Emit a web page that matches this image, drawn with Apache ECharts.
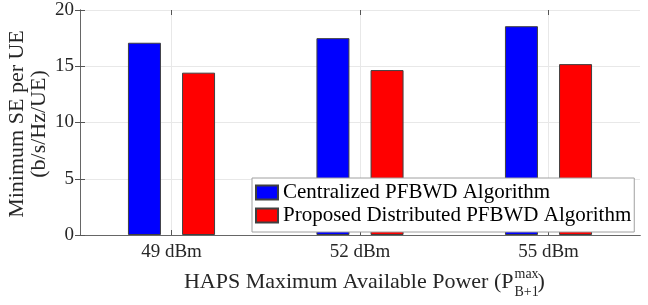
<!DOCTYPE html>
<html>
<head>
<meta charset="utf-8">
<script src="https://cdn.jsdelivr.net/npm/echarts@6/dist/echarts.min.js"></script>
<style>html,body{margin:0;padding:0;background:#fff;}#c{width:648px;height:305px;}</style>
</head>
<body>
<div id="c"></div>
<script>
const categories = ['49 dBm', '52 dBm', '55 dBm'];
const centralized = [17.09, 17.5, 18.56];
const distributed = [14.43, 14.66, 15.19];
const seriesNames = ['Centralized PFBWD Algorithm', 'Proposed Distributed PFBWD Algorithm'];
const yTicks = { min: 0, max: 20, interval: 5 };

const FONT = '"Liberation Serif", "Times New Roman", serif';
const chart = echarts.init(document.getElementById('c'), null, { renderer: 'canvas' });

const frameLine = { show: true, lineStyle: { color: '#666', width: 1 } };
const tickIn = { show: true, inside: true, length: 5, lineStyle: { color: '#555' } };

chart.setOption({
  animation: false,
  backgroundColor: '#fff',
  grid: [
    { left: 77.25, width: 565.5, top: 10, height: 225 },
    { left: 80, width: 560, top: 10, height: 225 }
  ],
  xAxis: [
    { gridIndex: 0, type: 'category', data: categories, position: 'bottom',
      axisLine: { show: false }, axisTick: Object.assign({ alignWithLabel: true }, tickIn),
      axisLabel: { margin: 8, fontSize: 19, fontFamily: FONT, color: '#262626' },
      splitLine: { show: true, alignWithLabel: true, lineStyle: { color: '#e8e8e8', width: 1 } } },
    { gridIndex: 0, type: 'category', data: categories, position: 'top',
      axisLine: { show: false }, axisTick: Object.assign({ alignWithLabel: true }, tickIn),
      axisLabel: { show: false }, splitLine: { show: false } },
    { gridIndex: 1, type: 'value', min: 0, max: 1, position: 'bottom',
      axisLine: { show: true, lineStyle: { color: '#333', width: 1 } },
      axisTick: { show: false }, axisLabel: { show: false }, splitLine: { show: false } },
    { gridIndex: 1, type: 'value', min: 0, max: 1, position: 'top',
      axisLine: frameLine, axisTick: { show: false }, axisLabel: { show: false }, splitLine: { show: false } }
  ],
  yAxis: [
    { gridIndex: 0, type: 'value', min: yTicks.min, max: yTicks.max, interval: yTicks.interval, show: false },
    { gridIndex: 1, type: 'value', min: yTicks.min, max: yTicks.max, interval: yTicks.interval, position: 'left',
      axisLine: frameLine, axisTick: tickIn,
      axisLabel: { margin: 6, fontSize: 19, fontFamily: FONT, color: '#262626' },
      splitLine: { show: true, lineStyle: { color: '#e8e8e8', width: 1 } } },
    { gridIndex: 1, type: 'value', min: yTicks.min, max: yTicks.max, interval: yTicks.interval, position: 'right',
      axisLine: frameLine, axisTick: tickIn, axisLabel: { show: false }, splitLine: { show: false } }
  ],
  legend: {
    orient: 'vertical', left: 252, top: 178,
    padding: [4, 3, 6, 3], itemGap: 2, itemWidth: 22, itemHeight: 14,
    backgroundColor: '#fff', borderColor: '#a0a0a0', borderWidth: 1,
    textStyle: { fontSize: 21, fontFamily: FONT, color: '#000', lineHeight: 21 },
    icon: 'rect',
    data: seriesNames
  },
  series: [
    { name: seriesNames[0], type: 'bar', xAxisIndex: 0, yAxisIndex: 0, data: centralized,
      barWidth: 33, barGap: '64%',
      itemStyle: { color: '#0000ff', borderColor: '#404040', borderWidth: 1 } },
    { name: seriesNames[1], type: 'bar', xAxisIndex: 0, yAxisIndex: 0, data: distributed,
      barWidth: 33, barGap: '64%',
      itemStyle: { color: '#ff0000', borderColor: '#404040', borderWidth: 1 } }
  ],
  graphic: [
    { type: 'text', x: 513.5, y: 282.6, silent: true,
      style: { text: 'HAPS Maximum Available Power (P', align: 'right', verticalAlign: 'middle',
        font: '22px ' + FONT, fill: '#262626' } },
    { type: 'text', x: 514.5, y: 274.6, silent: true,
      style: { text: 'max', align: 'left', verticalAlign: 'middle', font: '14px ' + FONT, fill: '#262626' } },
    { type: 'text', x: 514.5, y: 292, silent: true,
      style: { text: 'B+1', align: 'left', verticalAlign: 'middle', font: '14px ' + FONT, fill: '#262626' } },
    { type: 'text', x: 537.5, y: 282.6, silent: true,
      style: { text: ')', align: 'left', verticalAlign: 'middle', font: '22px ' + FONT, fill: '#262626' } },
    { type: 'text', x: 16.9, y: 124, rotation: Math.PI / 2, silent: true,
      style: { text: 'Minimum SE per UE', align: 'center', verticalAlign: 'middle', font: '22px ' + FONT, fill: '#262626' } },
    { type: 'text', x: 39.3, y: 124, rotation: Math.PI / 2, silent: true,
      style: { text: '(b/s/Hz/UE)', align: 'center', verticalAlign: 'middle', font: '22px ' + FONT, fill: '#262626' } }
  ]
});
</script>
</body>
</html>
